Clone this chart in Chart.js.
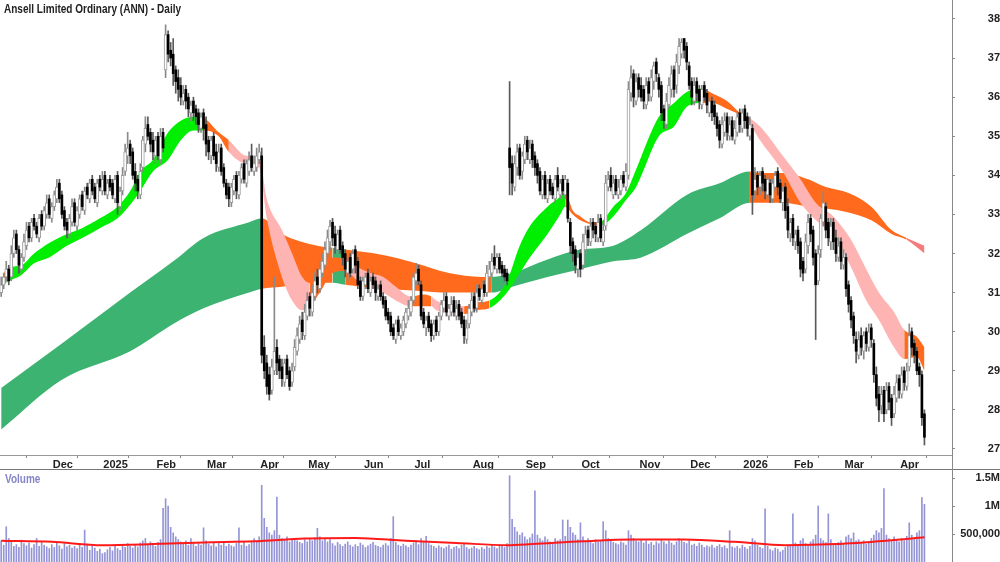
<!DOCTYPE html>
<html>
<head>
<meta charset="utf-8">
<script src="https://cdn.jsdelivr.net/npm/chart.js@4.4.1/dist/chart.umd.min.js"></script>
<style>
  body { margin: 0; background: #fff; width: 1000px; height: 562px; overflow: hidden; position: relative; }
  canvas { position: absolute; left: 0; }
  #price { top: 0; }
  #vol { top: 470px; }
  .txt { position: absolute; font-family: "Liberation Sans", Arial, sans-serif; font-weight: bold; font-size: 12px; white-space: nowrap; transform: scaleX(0.835); transform-origin: left top; }
  .title { left: 4px; top: 2px; color: #222; }
  .vlabel { left: 5px; top: 472px; color: #8585c8; }
  .hline { position: absolute; left: 0; width: 1000px; height: 1px; background: #777; top: 469px; }
  .vline { position: absolute; left: 952px; top: 455px; width: 1px; height: 15px; background: #888; }
</style>
</head>
<body>
<canvas id="price" width="1000" height="470"></canvas>
<canvas id="vol" width="1000" height="92"></canvas>
<div class="hline"></div>
<div class="vline"></div>
<div class="txt title">Ansell Limited Ordinary (ANN) - Daily</div>
<div class="txt vlabel">Volume</div>
<script>
// Axis labels
var monthIdx = [20, 40, 61, 81, 102, 121, 143, 163, 186, 207, 229, 252, 272, 293, 313, 333, 355];
var monthLabels = ['Dec', '2025', 'Feb', 'Mar', 'Apr', 'May', 'Jun', 'Jul', 'Aug', 'Sep', 'Oct', 'Nov', 'Dec', '2026', 'Feb', 'Mar', 'Apr'];
var priceTicks = [27, 28, 29, 30, 31, 32, 33, 34, 35, 36, 37, 38];
var volTicks = [500, 1000, 1500];
var volTickLabels = ['500,000', '1M', '1.5M'];

// Daily prices (one per trading day)
var opens = [
  31.0,31.2,31.4,31.6,31.4,32.0,32.5,32.1,31.6,31.9, 32.2,32.7,32.4,32.9,32.7,32.4,33.0,32.7,33.0,33.4,
  32.9,33.2,33.4,33.8,33.5,33.1,32.8,32.5,32.8,33.3, 32.7,33.0,33.5,33.1,33.7,33.4,33.9,33.7,33.3,33.9,
  33.6,34.0,33.5,33.9,33.8,33.4,34.0,33.2,33.6,34.1, 34.5,34.8,34.6,34.1,33.9,33.5,34.2,34.8,35.3,35.1,
  34.9,34.5,35.0,34.4,35.1,36.7,37.6,37.2,37.1,36.7, 36.5,36.3,35.9,36.2,36.0,35.6,35.9,35.7,35.6,35.2,
  35.6,35.3,34.9,34.5,35.0,34.6,34.2,34.7,34.2,33.8, 33.7,33.3,33.6,34.0,33.5,33.9,34.3,33.8,34.1,34.5,
  34.1,34.2,34.4,34.5,29.6,29.2,28.9,28.5,29.0,29.6, 29.3,29.1,28.7,29.3,29.0,28.7,29.1,29.5,29.8,30.3,
  29.9,30.4,30.9,30.5,30.9,31.4,31.1,31.5,31.7,32.0, 32.3,32.8,32.5,32.1,32.6,32.2,32.0,31.5,31.9,31.6,
  32.1,31.8,31.3,30.9,31.2,31.5,31.0,31.4,31.3,30.9, 31.2,30.9,30.8,30.5,30.4,30.1,29.8,30.3,29.9,30.0,
  30.2,30.4,30.5,30.8,31.3,31.6,31.2,30.5,30.1,30.4, 30.2,29.9,30.3,30.0,30.4,30.6,30.9,30.4,30.5,30.8,
  30.4,30.7,30.5,30.3,29.8,30.2,30.5,30.9,30.6,31.1, 30.8,31.2,31.0,31.4,31.5,31.9,31.6,31.9,31.7,31.6,
  31.5,34.7,34.3,33.7,34.2,34.7,34.1,34.4,34.9,34.4, 34.8,34.5,34.3,34.1,33.5,34.0,33.4,33.9,33.7,33.4,
  34.0,33.5,33.9,33.5,33.8,32.8,32.3,32.1,31.6,32.0, 31.7,32.1,32.6,32.3,32.8,32.7,32.4,32.9,32.3,32.7,
  33.7,34.0,33.5,33.9,33.5,33.6,34.0,33.7,34.0,36.1, 36.6,35.9,36.5,36.3,36.2,35.8,36.4,36.0,36.4,36.9,
  36.5,36.3,35.7,35.3,35.8,36.2,36.7,36.3,36.8,37.1, 37.5,37.3,36.8,36.4,35.9,36.4,36.2,35.8,36.3,36.1,
  35.6,35.9,35.8,35.5,35.3,34.8,35.1,35.5,35.0,35.4, 34.9,35.1,35.6,35.2,35.7,35.5,35.0,35.2,33.6,34.0,
  33.7,34.1,33.9,33.5,33.8,33.4,33.7,34.1,33.8,33.3, 33.7,33.2,32.5,32.9,32.3,32.6,32.3,31.8,31.6,32.2,
  32.9,32.6,32.0,31.3,32.1,32.8,33.2,32.8,32.3,32.8, 32.4,31.9,32.3,31.7,31.9,31.2,30.8,30.4,29.8,29.4,
  29.9,29.5,30.0,29.6,30.1,29.7,28.9,28.4,28.1,28.5, 28.0,28.6,28.3,27.9,28.3,28.8,28.4,29.0,28.6,29.1,
  30.0,29.7,29.5,29.1,28.9,27.9
];
var highs = [
  31.4,31.5,31.8,31.7,32.2,32.6,32.6,32.2,32.0,32.5, 32.8,32.8,32.9,33.0,32.8,33.0,33.1,33.2,33.5,33.5,
  33.3,33.6,33.9,33.9,33.6,33.2,32.9,33.0,33.4,33.4, 33.2,33.5,33.6,33.7,33.8,33.9,34.0,33.8,33.9,34.0,
  34.1,34.1,33.9,34.0,33.9,34.0,34.1,33.7,34.2,34.8, 35.1,34.9,34.7,34.3,34.0,34.3,35.0,35.5,35.5,35.2,
  35.1,35.0,35.1,35.2,35.2,37.85,37.7,37.4,37.5,36.8, 36.7,36.5,36.3,36.3,36.1,35.9,36.0,35.8,35.7,35.6,
  35.7,35.5,35.0,35.0,35.1,34.8,34.8,34.8,34.3,33.9, 33.8,33.8,34.0,34.1,34.1,34.3,34.4,34.4,34.6,34.8,
  34.5,34.7,34.8,34.7,29.9,29.4,29.1,29.3,31.4,29.8, 29.4,29.3,29.3,29.4,29.1,29.2,29.8,30.1,30.4,30.5,
  30.7,31.0,31.0,31.2,31.5,31.6,31.8,32.0,32.3,32.6, 32.85,32.9,32.7,32.6,32.7,32.3,32.1,31.9,32.0,32.1,
  32.2,31.9,31.4,31.4,31.5,31.6,31.4,31.5,31.4,31.2, 31.3,31.0,30.9,30.6,30.5,30.2,30.3,30.4,30.2,30.4,
  30.6,30.8,30.9,31.5,31.75,31.7,31.3,30.6,30.4,30.5, 30.3,30.3,30.4,30.5,30.8,31.0,31.0,30.7,30.9,30.9,
  30.8,30.8,30.6,30.4,30.3,30.7,31.0,31.0,31.2,31.2, 31.3,31.3,31.7,31.8,32.0,32.2,32.0,32.0,31.8,31.7,
  31.6,36.4,34.5,34.5,34.8,34.8,34.6,35.0,35.0,34.9, 34.9,34.6,34.4,34.2,34.0,34.1,33.9,34.0,33.8,34.0,
  34.2,33.9,34.0,34.0,33.9,32.9,32.4,32.2,32.0,32.1, 32.5,32.7,32.7,32.9,32.9,32.8,33.0,33.0,32.8,34.0,
  34.1,34.2,34.0,34.0,33.9,34.0,34.1,34.3,36.4,36.8, 36.7,36.6,36.6,36.5,36.3,36.5,36.5,36.7,36.9,37.0,
  36.6,36.4,35.8,36.1,36.5,36.8,36.8,37.1,37.5,37.5, 37.5,37.4,36.9,36.5,36.5,36.5,36.3,36.3,36.4,36.2,
  36.0,36.0,35.9,35.6,35.4,35.5,35.6,35.6,35.5,35.5, 35.4,35.6,35.7,35.7,35.8,35.6,35.5,35.3,34.2,34.1,
  34.1,34.2,34.0,34.0,33.9,33.9,34.1,34.2,33.9,33.7, 33.8,33.4,32.9,33.0,32.6,32.7,32.4,31.9,32.5,33.0,
  33.0,32.7,32.1,32.2,33.0,33.6,33.3,32.9,32.9,32.9, 32.6,32.4,32.4,32.1,32.0,31.3,30.9,30.5,30.0,30.0,
  30.1,30.0,30.1,30.2,30.2,29.8,29.1,28.6,28.6,28.6, 28.7,28.7,28.4,28.6,28.9,28.9,29.1,29.1,29.2,30.2,
  30.1,29.8,29.6,29.2,29.0,28.0
];
var lows = [
  30.9,31.1,31.3,31.2,31.3,31.9,32.0,31.5,31.5,31.8, 32.1,32.3,32.3,32.6,32.4,32.3,32.6,32.6,32.9,32.9,
  32.8,33.1,33.3,33.3,32.9,32.6,32.4,32.4,32.7,32.7, 32.6,32.9,33.1,33.0,33.4,33.3,33.5,33.3,33.2,33.6,
  33.5,33.5,33.4,33.6,33.4,33.3,33.0,33.1,33.5,34.0, 34.3,34.3,33.9,33.6,33.4,33.4,34.1,34.6,34.9,34.6,
  34.4,34.3,34.4,34.3,34.6,36.5,36.9,36.8,36.3,36.1, 35.9,35.8,35.8,35.7,35.5,35.4,35.4,35.3,35.1,35.1,
  34.9,34.5,34.4,34.3,34.4,34.1,34.1,34.0,33.7,33.4, 33.2,33.2,33.5,33.4,33.4,33.8,33.8,33.7,34.0,34.1,
  34.0,34.1,34.3,29.2,28.8,28.4,28.25,28.4,28.9,28.9, 28.8,28.6,28.6,28.8,28.5,28.6,29.0,29.4,29.7,29.8,
  29.8,30.3,30.4,30.4,30.8,31.0,31.0,31.4,31.6,31.9, 32.1,32.2,32.0,32.0,32.0,31.7,31.4,31.3,31.4,31.5,
  31.5,31.1,30.8,30.8,31.1,31.0,30.9,31.1,30.8,30.8, 30.8,30.6,30.3,30.2,29.9,29.8,29.7,29.9,29.8,29.9,
  30.1,30.3,30.4,30.7,31.2,31.2,30.3,30.1,29.9,30.0, 29.75,29.8,29.9,29.9,30.3,30.5,30.4,30.3,30.4,30.4,
  30.3,30.3,30.1,29.7,29.7,30.1,30.4,30.5,30.5,30.8, 30.7,30.9,30.9,31.3,31.4,31.6,31.5,31.5,31.4,31.3,
  31.2,33.5,33.5,33.6,34.0,33.9,33.9,34.3,34.4,34.3, 34.2,34.0,33.8,33.5,33.4,33.4,33.3,33.5,33.4,33.3,
  33.6,33.4,33.5,33.4,32.8,32.0,31.8,31.5,31.4,31.4, 31.6,32.0,32.2,32.2,32.4,32.3,32.3,32.3,32.2,32.6,
  33.6,33.6,33.4,33.5,33.4,33.5,33.7,33.6,33.9,35.9, 35.75,35.8,36.0,35.9,35.7,35.7,35.9,35.9,36.2,36.4,
  36.0,35.4,35.2,35.2,35.7,36.0,36.0,36.1,36.6,37.0, 37.0,36.7,36.2,35.8,35.8,35.9,35.7,35.7,35.9,35.6,
  35.5,35.4,35.3,35.0,34.7,34.7,35.0,34.9,34.9,34.9, 34.8,35.0,35.1,35.1,35.2,35.0,34.9,33.0,33.4,33.5,
  33.5,33.6,33.4,33.4,33.3,33.3,33.6,33.5,33.3,33.1, 32.9,32.4,32.3,32.2,32.1,32.0,31.4,31.3,31.5,32.0,
  32.3,31.7,29.8,31.2,31.9,32.7,32.4,32.2,32.1,32.1, 31.8,31.8,31.6,31.6,30.9,30.5,30.1,29.7,29.2,29.3,
  29.4,29.3,29.5,29.5,29.6,28.7,28.1,27.7,27.9,27.7, 27.9,28.0,27.6,27.8,28.2,28.3,28.3,28.5,28.5,29.0,
  29.4,29.2,28.9,28.6,27.6,27.1
];
var closes = [
  31.2,31.4,31.6,31.3,32.0,32.4,32.1,31.7,31.9,32.3, 32.6,32.4,32.8,32.7,32.5,32.9,32.7,33.1,33.3,33.0,
  33.2,33.5,33.7,33.4,33.0,32.7,32.6,32.9,33.2,32.8, 33.1,33.4,33.2,33.6,33.5,33.8,33.6,33.4,33.8,33.7,
  33.9,33.6,33.8,33.7,33.5,33.9,33.3,33.6,34.0,34.6, 34.7,34.5,34.0,33.8,33.6,34.1,34.9,35.2,35.0,34.8,
  34.6,34.9,34.5,35.0,34.7,37.6,37.1,37.0,36.6,36.4, 36.2,36.0,36.1,35.9,35.7,35.8,35.6,35.5,35.3,35.5,
  35.2,34.8,34.6,34.9,34.5,34.3,34.6,34.1,33.8,33.5, 33.4,33.7,33.9,33.6,34.0,34.2,33.9,34.3,34.4,34.2,
  34.3,34.5,34.6,29.4,29.0,28.6,28.4,29.1,29.5,29.2, 29.0,28.8,29.2,28.9,28.6,29.0,29.6,29.9,30.2,30.0,
  30.5,30.8,30.6,31.0,31.3,31.2,31.6,31.8,32.1,32.4, 32.7,32.4,32.2,32.5,32.1,31.9,31.6,31.8,31.5,32.0,
  31.7,31.2,30.9,31.3,31.4,31.1,31.3,31.2,31.0,31.1, 30.9,30.7,30.4,30.3,30.0,29.9,30.2,30.0,30.1,30.3,
  30.5,30.6,30.8,31.4,31.5,31.3,30.4,30.2,30.3,30.1, 29.9,30.2,30.0,30.4,30.7,30.8,30.5,30.6,30.7,30.5,
  30.6,30.4,30.2,29.9,30.1,30.6,30.8,30.6,31.0,30.9, 31.1,31.0,31.5,31.6,31.8,31.7,31.9,31.6,31.5,31.4,
  31.3,34.2,33.8,34.3,34.6,34.0,34.5,34.8,34.6,34.7, 34.4,34.2,34.0,33.6,33.9,33.5,33.8,33.6,33.5,33.9,
  33.7,33.8,33.6,33.9,32.9,32.2,32.0,31.7,31.9,31.6, 32.3,32.5,32.4,32.7,32.6,32.5,32.8,32.4,32.6,33.8,
  33.9,33.7,33.8,33.6,33.7,33.9,33.8,34.1,36.2,36.5, 36.0,36.4,36.2,36.0,35.9,36.3,36.1,36.5,36.8,36.6,
  36.2,35.6,35.4,35.9,36.3,36.6,36.2,36.9,37.3,37.4, 37.2,36.9,36.3,36.0,36.3,36.1,35.9,36.2,36.0,35.8,
  35.9,35.6,35.5,35.2,34.9,35.3,35.4,35.1,35.3,35.0, 35.2,35.5,35.3,35.6,35.4,35.2,35.3,33.5,33.9,33.7,
  34.0,33.8,33.6,33.9,33.5,33.8,34.0,33.7,33.4,33.6, 33.1,32.6,32.8,32.4,32.5,32.2,31.6,31.5,32.3,32.8,
  32.5,31.9,31.2,32.0,32.9,33.3,32.6,32.4,32.7,32.3, 32.0,32.2,31.8,31.9,31.1,30.7,30.3,29.9,29.5,29.8,
  29.6,29.9,29.7,30.0,29.8,28.9,28.3,28.0,28.4,27.9, 28.5,28.2,27.8,28.4,28.7,28.5,28.9,28.7,29.0,29.9,
  29.6,29.4,29.0,28.9,27.8,27.3
];

// Daily volume, thousands of shares
var volumes = [
  380,300,630,420,350,280,310,260,390,330, 290,340,250,310,420,280,360,300,270,240,
  310,260,350,290,230,330,270,300,250,280, 240,300,260,570,320,210,280,250,190,230,
  150,170,220,260,200,280,240,210,300,260, 330,280,250,310,270,340,380,420,300,360,
  310,280,350,400,960,1130,1000,620,520,450, 400,360,330,380,300,420,350,280,330,300,
  610,380,320,290,350,270,330,300,360,280, 320,290,270,330,610,300,350,280,310,360,
  420,380,450,1370,780,620,520,480,560,1160, 480,420,390,450,360,400,420,380,350,330,
  400,360,420,380,430,600,450,380,420,360, 400,330,290,350,310,280,320,360,300,270,
  310,280,340,300,260,290,320,350,300,280, 260,300,330,290,420,810,350,300,280,320,
  290,260,300,340,380,310,420,360,460,330, 300,280,250,290,260,240,270,300,230,260,
  280,240,300,330,260,230,250,280,240,220, 260,230,280,250,300,270,240,310,290,260,
  330,1540,760,620,540,480,520,450,400,430, 500,1270,480,420,380,450,400,360,340,420,
  380,400,750,460,750,620,520,480,400,700, 450,380,420,350,330,400,360,380,720,560,
  420,380,350,330,310,360,340,300,560,480, 420,380,360,400,340,380,320,350,300,360,
  330,400,360,320,380,340,300,360,420,380, 350,330,380,300,320,280,340,300,260,290,
  270,300,250,280,310,260,290,240,560,270, 250,280,240,300,260,230,280,420,380,300,
  260,240,950,280,220,200,250,230,180,210, 260,300,280,860,340,310,380,420,330,300,
  360,400,480,1000,420,380,350,860,400,330, 300,350,380,320,450,480,420,520,380,400,
  350,380,320,360,420,480,560,520,600,1310, 480,420,380,450,400,360,420,380,460,700,
  480,420,520,560,1150,1030
];
var volAvgIdx = [0, 20, 40, 60, 80, 100, 120, 140, 160, 180, 200, 210, 230, 250, 270, 290, 310, 330, 350, 365];
var volAvg = [380, 360, 300, 320, 350, 370, 420, 430, 380, 340, 300, 320, 370, 400, 400, 360, 300, 320, 380, 440];

// Short-term ribbon (upper / lower edge)
var shortIdx = [0,2,8,13,19,26,32,39,46,51,55,60,66,71,76,80,86,90,97,102,105,111,115,119,122,126,131,136,141,146,151,156,162,167,170,172,177,183,188,193,200,205,209,216,221,223,226,229,233,237,242,247,251,260,266,271,277,281,287,292,295,300,309,316,322,329,336,342,347,353,357,362,365];
var shortHi = [31.3,31.6,31.7,32.0,32.27,32.5,32.65,32.9,33.2,33.6,34.1,34.4,35.1,35.4,35.5,35.47,35.1,34.9,34.5,34.45,33.4,32.6,32.0,31.4,31.25,31.6,31.9,31.85,31.65,31.5,31.4,31.15,30.9,30.95,30.9,30.8,30.7,30.65,30.75,30.8,31.3,32.2,32.7,33.2,33.45,33.57,33.1,32.95,32.8,32.82,33.2,33.55,34.15,35.5,35.85,36.13,36.22,36.1,35.9,35.6,35.5,35.25,34.5,33.9,33.3,32.95,32.35,31.6,31.0,30.5,30.05,29.87,29.6];
var shortLo = [31.1,31.25,31.45,31.75,31.9,32.2,32.4,32.65,32.9,33.25,33.6,34.1,34.4,34.9,35.15,35.15,35.0,34.6,34.3,34.2,32.9,31.4,30.8,30.55,30.65,31.0,31.5,31.55,31.3,31.15,31.0,30.8,30.65,30.65,30.65,30.55,30.5,30.45,30.55,30.6,31.0,31.5,31.9,32.5,33.0,33.2,33.0,32.85,32.75,32.72,32.95,33.37,33.7,35.0,35.25,35.75,35.85,35.85,35.7,35.55,35.4,34.9,34.1,33.3,32.86,32.5,31.65,30.8,30.3,29.6,29.3,29.35,29.0];
var shortPhaseStart = [0, 2, 80, 90, 122, 136, 162, 170, 183, 193, 223, 237, 277, 295, 357];
var shortPhase = ['turn', 'up', 'turn', 'down', 'turn', 'down', 'turn', 'down', 'turn', 'up', 'turn', 'up', 'turn', 'down', 'turn'];

// Long-term ribbon
var longIdx = [0,24,51,68,80,98,103,111,125,131,136,151,164,177,190,194,202,216,229,242,253,271,284,296,300,309,319,326,335,344,352,358,365];
var longHi = [28.56,29.7,31.0,31.8,32.4,32.8,32.9,32.5,32.2,32.15,32.1,31.96,31.75,31.5,31.4,31.4,31.5,31.85,32.1,32.2,32.6,33.5,33.8,34.1,34.06,34.06,33.9,33.7,33.55,33.2,32.6,32.4,32.2];
var longLo = [27.5,28.77,29.5,30.2,30.6,31.0,31.1,31.15,31.25,31.25,31.2,31.1,31.05,31.0,31.0,31.0,31.15,31.4,31.6,31.8,31.9,32.5,32.9,33.3,33.3,33.3,33.2,33.15,33.05,32.85,32.5,32.35,32.0];
var longPhaseStart = [0, 103, 131, 136, 194, 296, 358];
var longPhase = ['up', 'down', 'up', 'down', 'up', 'down', 'fade'];

var shortColors = { up: '#00ee00', turn: '#ff6a1c', down: '#ffb4b4' };
var longColors = { up: '#3cb371', down: '#ff6a1c', fade: '#f47c7c' };

var X_MIN = -0.47, X_MAX = 375.9;
var axisFont = { family: "'Liberation Sans', Arial, sans-serif", size: 11, weight: 'bold' };

function phaseAt(starts, kinds, x) {
  var k = 0;
  for (var j = 0; j < starts.length; j++) {
    if (x >= starts[j]) k = j;
  }
  return kinds[k];
}

function pts(xs, ys) {
  return xs.map(function (x, k) { return { x: x, y: ys[k] }; });
}

function isUp(i) { return closes[i] >= opens[i]; }

// keep label overflow from shrinking the plot area
function noPad(s) { s.paddingTop = 0; s.paddingBottom = 0; s.paddingLeft = 0; s.paddingRight = 0; }

var upBodies = [], downBodies = [];
opens.forEach(function (o, i) {
  (isUp(i) ? upBodies : downBodies).push({ x: i, y: [o, closes[i]] });
});

var bandLine = { type: 'line', pointRadius: 0, borderWidth: 0, borderColor: 'rgba(0,0,0,0)', cubicInterpolationMode: 'monotone' };

var priceChart = new Chart(document.getElementById('price'), {
  type: 'bar',
  data: {
    datasets: [
      Object.assign({}, bandLine, { data: pts(longIdx, longHi), fill: false, order: 40 }),
      Object.assign({}, bandLine, {
        data: pts(longIdx, longLo), fill: '-1', order: 40, backgroundColor: longColors.up,
        segment: { backgroundColor: function (ctx) { return longColors[phaseAt(longPhaseStart, longPhase, longIdx[ctx.p0DataIndex])]; } }
      }),
      Object.assign({}, bandLine, { data: pts(shortIdx, shortHi), fill: false, order: 30 }),
      Object.assign({}, bandLine, {
        data: pts(shortIdx, shortLo), fill: '-1', order: 30, backgroundColor: shortColors.up,
        segment: { backgroundColor: function (ctx) { return shortColors[phaseAt(shortPhaseStart, shortPhase, shortIdx[ctx.p0DataIndex])]; } }
      }),
      {
        // wicks
        type: 'bar', order: 10, grouped: false, barThickness: 1,
        data: lows.map(function (l, i) { return { x: i, y: [l, highs[i]] }; }),
        backgroundColor: function (c) { return isUp(c.dataIndex) ? '#8a8a8a' : '#5a5a5a'; }
      },
      {
        type: 'bar', order: 1, grouped: false, barThickness: 3, minBarLength: 1,
        borderWidth: 1, borderSkipped: false,
        data: upBodies, backgroundColor: '#ffffff', borderColor: '#9c9c9c'
      },
      {
        type: 'bar', order: 0, grouped: false, barThickness: 2, minBarLength: 1,
        data: downBodies, backgroundColor: '#000000'
      }
    ]
  },
  options: {
    responsive: false,
    animation: false,
    events: [],
    layout: { padding: 0 },
    plugins: { legend: { display: false }, tooltip: { enabled: false } },
    scales: {
      x: {
        type: 'linear', min: X_MIN, max: X_MAX, offset: false,
        afterBuildTicks: function (s) { s.ticks = monthIdx.map(function (v) { return { value: v }; }); },
        afterFit: function (s) { s.height = 15; noPad(s); },
        grid: { drawOnChartArea: false, tickLength: 3, color: '#888' },
        border: { color: '#999' },
        ticks: {
          autoSkip: false, maxRotation: 0, align: 'start', padding: 0, labelOffset: 1,
          font: axisFont, color: '#222',
          callback: function (v, i) { return monthLabels[i]; }
        }
      },
      y: {
        position: 'right', min: 26.846, max: 38.486,
        afterBuildTicks: function (s) { s.ticks = priceTicks.map(function (v) { return { value: v }; }); },
        afterFit: function (s) { s.width = 48; noPad(s); },
        grid: { drawOnChartArea: false, tickLength: 3, color: '#888' },
        border: { color: '#888' },
        ticks: { crossAlign: 'far', padding: 29, font: axisFont, color: '#222', callback: function (v) { return String(v); } }
      }
    }
  }
});

var volChart = new Chart(document.getElementById('vol'), {
  type: 'bar',
  data: {
    datasets: [
      {
        type: 'line', order: 0, data: pts(volAvgIdx, volAvg), borderColor: '#ff1a1a', borderWidth: 2,
        pointRadius: 0, fill: false, cubicInterpolationMode: 'monotone'
      },
      {
        type: 'bar', order: 5, grouped: false, barThickness: 1,
        data: volumes.map(function (v, i) { return { x: i, y: v }; }),
        backgroundColor: '#9494d6'
      }
    ]
  },
  options: {
    responsive: false,
    animation: false,
    events: [],
    layout: { padding: 0 },
    plugins: { legend: { display: false }, tooltip: { enabled: false } },
    scales: {
      x: { type: 'linear', min: X_MIN, max: X_MAX, offset: false, display: false },
      y: {
        position: 'right', min: 0, max: 1643,
        afterBuildTicks: function (s) { s.ticks = volTicks.map(function (v) { return { value: v }; }); },
        afterFit: function (s) { s.width = 48; noPad(s); },
        grid: { drawOnChartArea: false, tickLength: 3, color: '#888' },
        border: { color: '#888' },
        ticks: {
          crossAlign: 'far', padding: 2, font: axisFont, color: '#222',
          callback: function (v, i) { return volTickLabels[i]; }
        }
      }
    }
  }
});
</script>
</body>
</html>
